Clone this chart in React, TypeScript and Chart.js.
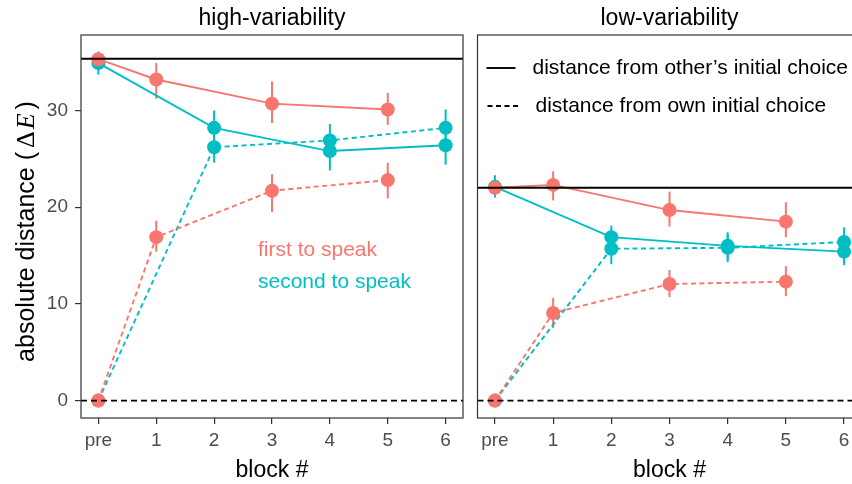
import React, { useEffect, useRef } from "react";
import { Chart, registerables } from "chart.js";

Chart.register(...registerables);

// ---------- data ----------
const tickLabels = ["pre", "1", "2", "3", "4", "5", "6"];
const RED = "#F8766D";
const TEAL = "#00BFC4";

// first speaker blocks / second speaker blocks
const firstX = [0, 1, 3, 5];
const secondX = [0, 2, 4, 6];

// high-variability
const hiFirstOther = [35.3, 33.2, 30.7, 30.1];
const hiFirstOtherLo = [34.8, 31.2, 28.7, 28.5];
const hiFirstOtherHi = [35.8, 34.9, 33.0, 31.8];
const hiFirstOwn = [0, 16.9, 21.7, 22.8];
const hiFirstOwnLo = [0, 15.4, 19.5, 20.9];
const hiFirstOwnHi = [0, 18.6, 23.4, 24.6];
const hiSecondOther = [34.9, 28.2, 25.8, 26.4];
const hiSecondOtherLo = [33.7, 26.6, 23.8, 24.4];
const hiSecondOtherHi = [36.1, 30.0, 27.6, 28.4];
const hiSecondOwn = [0, 26.2, 26.9, 28.2];
const hiSecondOwnLo = [0, 24.6, 25.2, 26.3];
const hiSecondOwnHi = [0, 28.0, 28.6, 30.1];
const hiOtherInitial = 35.35;

// low-variability
const loFirstOther = [22.0, 22.3, 19.7, 18.5];
const loFirstOtherLo = [21.6, 20.7, 18.0, 16.9];
const loFirstOtherHi = [22.4, 23.7, 21.6, 20.5];
const loFirstOwn = [0, 9.06, 12.05, 12.3];
const loFirstOwnLo = [0, 7.5, 10.7, 10.8];
const loFirstOwnHi = [0, 10.6, 13.5, 13.9];
const loSecondOther = [22.1, 16.9, 16.0, 15.4];
const loSecondOtherLo = [21.0, 15.7, 14.6, 14.0];
const loSecondOtherHi = [23.3, 18.1, 17.4, 16.8];
const loSecondOwn = [0, 15.7, 15.8, 16.4];
const loSecondOwnLo = [0, 14.1, 14.3, 15.0];
const loSecondOwnHi = [0, 17.3, 17.2, 17.9];
const loOtherInitial = 22.0;

const X_MIN = -0.3;
const X_MAX = 6.3;
const Y_MIN = -1.8;
const Y_MAX = 37.8;

const SANS = "'Liberation Sans', Arial, Helvetica, sans-serif";
const SERIF = "'Liberation Serif', 'DejaVu Serif', serif";

type Series = {
  xs: number[];
  ys: number[];
  lo: number[];
  hi: number[];
  color: string;
  dashed: boolean;
};

function seriesFor(
  fo: number[], foL: number[], foH: number[],
  fw: number[], fwL: number[], fwH: number[],
  so: number[], soL: number[], soH: number[],
  sw: number[], swL: number[], swH: number[]
): Series[] {
  return [
    { xs: secondX, ys: so, lo: soL, hi: soH, color: TEAL, dashed: false },
    { xs: secondX, ys: sw, lo: swL, hi: swH, color: TEAL, dashed: true },
    { xs: firstX, ys: fo, lo: foL, hi: foH, color: RED, dashed: false },
    { xs: firstX, ys: fw, lo: fwL, hi: fwH, color: RED, dashed: true },
  ];
}

const hiSeries = seriesFor(
  hiFirstOther, hiFirstOtherLo, hiFirstOtherHi,
  hiFirstOwn, hiFirstOwnLo, hiFirstOwnHi,
  hiSecondOther, hiSecondOtherLo, hiSecondOtherHi,
  hiSecondOwn, hiSecondOwnLo, hiSecondOwnHi
);
const loSeries = seriesFor(
  loFirstOther, loFirstOtherLo, loFirstOtherHi,
  loFirstOwn, loFirstOwnLo, loFirstOwnHi,
  loSecondOther, loSecondOtherLo, loSecondOtherHi,
  loSecondOwn, loSecondOwnLo, loSecondOwnHi
);

type PanelProps = {
  title: string;
  series: Series[];
  refY: number;
  showY: boolean;
  legend: "speaker" | "linetype";
  width: number;
  height: number;
  padLeft: number;
  padRight: number;
};

function makeConfig(p: PanelProps): any {
  const datasets: any[] = [];
  datasets.push({
    data: [{ x: X_MIN, y: p.refY }, { x: X_MAX, y: p.refY }],
    borderColor: "#000",
    borderWidth: 1.9,
    pointRadius: 0,
    order: 0,
  });
  datasets.push({
    data: [{ x: X_MIN, y: 0 }, { x: X_MAX, y: 0 }],
    borderColor: "#000",
    borderWidth: 1.9,
    borderDash: [6, 4],
    pointRadius: 0,
    order: 0,
  });
  p.series.forEach((s) => {
    datasets.push({
      data: s.xs.map((x, i) => ({ x, y: s.ys[i] })),
      borderColor: s.color,
      backgroundColor: s.color,
      pointBackgroundColor: s.color,
      pointBorderColor: s.color,
      pointBorderWidth: 0,
      pointRadius: 7,
      borderWidth: 1.9,
      borderDash: s.dashed ? [5, 3.5] : [],
      tension: 0,
      order: s.color === RED ? 1 : 2,
    });
  });

  const decor = {
    id: "decor",
    beforeDatasetsDraw(chart: any) {
      const ctx = chart.ctx;
      const xs = chart.scales.x;
      const ys = chart.scales.y;
      ctx.save();
      ctx.lineWidth = 2;
      ctx.setLineDash([]);
      p.series.forEach((s) => {
        ctx.strokeStyle = s.color;
        s.xs.forEach((x, i) => {
          if (s.hi[i] - s.lo[i] <= 0) return;
          const px = xs.getPixelForValue(x);
          ctx.beginPath();
          ctx.moveTo(px, ys.getPixelForValue(s.lo[i]));
          ctx.lineTo(px, ys.getPixelForValue(s.hi[i]));
          ctx.stroke();
        });
      });
      ctx.restore();
    },
    afterDraw(chart: any) {
      const ctx = chart.ctx;
      const a = chart.chartArea;
      const cx = (a.left + a.right) / 2;
      ctx.save();
      // panel border
      ctx.strokeStyle = "#333333";
      ctx.lineWidth = 1.2;
      ctx.setLineDash([]);
      ctx.strokeRect(a.left, a.top, a.right - a.left, a.bottom - a.top);
      // panel title
      ctx.fillStyle = "#000";
      ctx.textAlign = "center";
      ctx.textBaseline = "alphabetic";
      ctx.font = `23px ${SANS}`;
      ctx.fillText(p.title, cx, 25);
      // x title
      ctx.fillText("block #", cx, 477);
      // y title
      if (p.showY) {
        const cy = (a.top + a.bottom) / 2 + 5;
        const parts: [string, string, number][] = [
          ["absolute distance (", `25px ${SANS}`, 4],
          ["\u0394", `26px ${SERIF}`, 2],
          ["E", `italic 26px ${SERIF}`, 4],
          [")", `25px ${SANS}`, 0],
        ];
        let total = 0;
        parts.forEach(([t, f, g]) => {
          ctx.font = f;
          total += ctx.measureText(t).width + g;
        });
        ctx.translate(34, cy);
        ctx.rotate(-Math.PI / 2);
        ctx.textAlign = "left";
        let x = -total / 2;
        parts.forEach(([t, f, g]) => {
          ctx.font = f;
          ctx.fillText(t, x, 0);
          x += ctx.measureText(t).width + g;
        });
        ctx.setTransform(1, 0, 0, 1, 0, 0);
      }
      // legends
      ctx.textAlign = "left";
      ctx.textBaseline = "middle";
      if (p.legend === "speaker") {
        ctx.font = `21px ${SANS}`;
        ctx.fillStyle = RED;
        ctx.fillText("first to speak", 258, 250);
        ctx.fillStyle = TEAL;
        ctx.fillText("second to speak", 258, 282);
      } else {
        const ox = a.left;
        ctx.strokeStyle = "#000";
        ctx.lineWidth = 1.9;
        ctx.beginPath();
        ctx.moveTo(ox + 9, 68);
        ctx.lineTo(ox + 38, 68);
        ctx.stroke();
        ctx.setLineDash([5, 3.5]);
        ctx.beginPath();
        ctx.moveTo(ox + 10, 106);
        ctx.lineTo(ox + 41, 106);
        ctx.stroke();
        ctx.setLineDash([]);
        ctx.fillStyle = "#000";
        ctx.font = `21px ${SANS}`;
        ctx.fillText("distance from other\u2019s initial choice", ox + 55, 68);
        ctx.fillText("distance from own initial choice", ox + 58, 106);
      }
      ctx.restore();
    },
  };

  return {
    type: "line",
    data: { datasets },
    plugins: [decor],
    options: {
      animation: false,
      responsive: false,
      devicePixelRatio: 1,
      events: [],
      layout: {
        padding: { left: p.padLeft, right: p.padRight, top: 35, bottom: 0 },
      },
      plugins: {
        legend: { display: false },
        tooltip: { enabled: false },
        title: { display: false },
      },
      scales: {
        x: {
          type: "linear",
          min: X_MIN,
          max: X_MAX,
          ticks: {
            stepSize: 1,
            includeBounds: false,
            autoSkip: false,
            maxRotation: 0,
            color: "#4D4D4D",
            font: { family: SANS, size: 19 },
            padding: 5,
            callback: (v: any) => tickLabels[Math.round(v)] ?? "",
          },
          grid: {
            drawOnChartArea: false,
            drawTicks: true,
            tickLength: 6,
            color: "#333333",
            lineWidth: 1.2,
          },
          border: { display: false },
          afterFit: (s: any) => {
            s.height = 66;
          },
        },
        y: {
          type: "linear",
          display: p.showY,
          min: Y_MIN,
          max: Y_MAX,
          ticks: {
            stepSize: 10,
            includeBounds: false,
            color: "#4D4D4D",
            font: { family: SANS, size: 19 },
            padding: 7,
          },
          grid: {
            drawOnChartArea: false,
            drawTicks: true,
            tickLength: 6,
            color: "#333333",
            lineWidth: 1.2,
          },
          border: { display: false },
          afterFit: (s: any) => {
            s.width = p.showY ? 81 : 0;
          },
        },
      },
    },
  };
}

function Panel(p: PanelProps & { left: number }) {
  const ref = useRef<HTMLCanvasElement | null>(null);
  useEffect(() => {
    if (!ref.current) return;
    const chart = new Chart(ref.current, makeConfig(p));
    return () => chart.destroy();
  }, []);
  return (
    <div
      style={{
        position: "absolute",
        left: p.left,
        top: 0,
        width: p.width,
        height: p.height,
      }}
    >
      <canvas
        ref={ref}
        width={p.width}
        height={p.height}
        style={{ display: "block", width: p.width, height: p.height }}
      />
    </div>
  );
}

export default function App() {
  return (
    <div
      style={{
        position: "fixed",
        left: 0,
        top: 0,
        width: 852,
        height: 484,
        overflow: "hidden",
        background: "#fff",
      }}
    >
      <Panel
        left={0}
        width={470}
        height={484}
        title="high-variability"
        series={hiSeries}
        refY={hiOtherInitial}
        showY={true}
        legend="speaker"
        padLeft={0}
        padRight={5.5}
      />
      <Panel
        left={470}
        width={400}
        height={484}
        title="low-variability"
        series={loSeries}
        refY={loOtherInitial}
        showY={false}
        legend="linetype"
        padLeft={7.5}
        padRight={8.5}
      />
    </div>
  );
}
